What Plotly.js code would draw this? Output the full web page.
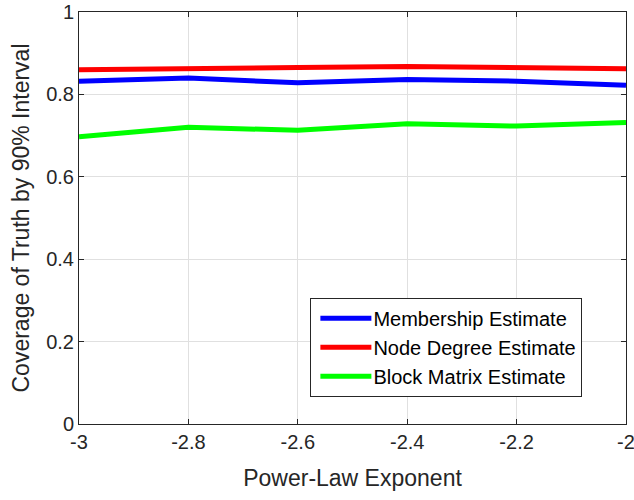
<!DOCTYPE html>
<html>
<head>
<meta charset="utf-8">
<script src="https://cdn.plot.ly/plotly-3.0.1.min.js"></script>
<style>
  html, body { margin: 0; padding: 0; background: #fff; }
  #chart { width: 634px; height: 500px; }
</style>
</head>
<body>
<div id="chart"></div>
<script>
// Power-law exponents on the x axis
const exponents = [-3, -2.8, -2.6, -2.4, -2.2, -2];

// Coverage of the truth by the 90% interval, per estimate
const membership  = [0.832, 0.840, 0.828, 0.836, 0.832, 0.822];
const nodeDegree  = [0.860, 0.864, 0.865, 0.868, 0.866, 0.862];
const blockMatrix = [0.697, 0.720, 0.713, 0.729, 0.723, 0.732];

const seriesNames = ['Membership Estimate', 'Node Degree Estimate', 'Block Matrix Estimate'];
const xTicks = [-3, -2.8, -2.6, -2.4, -2.2, -2];
const xTickText = ['-3', '-2.8', '-2.6', '-2.4', '-2.2', '-2'];
const yTicks = [0, 0.2, 0.4, 0.6, 0.8, 1];
const yTickText = ['0', '0.2', '0.4', '0.6', '0.8', '1'];

const font = 'Liberation Sans, Arial, sans-serif';

function line(y, name, color) {
  return {
    x: exponents, y: y, name: name, type: 'scatter', mode: 'lines',
    line: { color: color, width: 5 }
  };
}

const traces = [
  line(membership, seriesNames[0], '#0000ff'),
  line(nodeDegree, seriesNames[1], '#ff0000'),
  line(blockMatrix, seriesNames[2], '#00ff00')
];

const axisCommon = {
  showline: true, mirror: 'ticks', linecolor: '#262626', linewidth: 1,
  ticks: 'inside', ticklen: 5, tickcolor: '#262626',
  showgrid: true, gridcolor: '#e0e0e0', gridwidth: 1,
  zeroline: false, ticklabeloverflow: 'allow',
  tickfont: { family: font, size: 20, color: '#262626' }
};

const layout = {
  width: 634, height: 500,
  margin: { l: 79, r: 8, t: 12, b: 76 },
  paper_bgcolor: '#ffffff', plot_bgcolor: '#ffffff',
  showlegend: true,
  xaxis: Object.assign({}, axisCommon, {
    range: [-3, -2], tickvals: xTicks, ticktext: xTickText,
    title: { text: 'Power-Law Exponent', font: { family: font, size: 23, color: '#262626' }, standoff: 17 }
  }),
  yaxis: Object.assign({}, axisCommon, {
    range: [0, 1], tickvals: yTicks, ticktext: yTickText,
    title: { text: 'Coverage of Truth by 90% Interval', font: { family: font, size: 23, color: '#262626' }, standoff: 10 }
  }),
  legend: {
    x: 0.423, y: 0.186, xanchor: 'left', yanchor: 'middle',
    bgcolor: '#ffffff', bordercolor: '#262626', borderwidth: 1,
    font: { family: font, size: 20, color: '#000000' },
    tracegroupgap: 0, itemwidth: 52
  }
};

Plotly.newPlot('chart', traces, layout, { displayModeBar: false, staticPlot: true }).then(function (gd) {
  // lengthen the legend line samples to fill the widened item slot
  gd.querySelectorAll('.legend .legendlines path').forEach(function (p) {
    p.setAttribute('d', 'M9,0h51');
  });
});
</script>
</body>
</html>
